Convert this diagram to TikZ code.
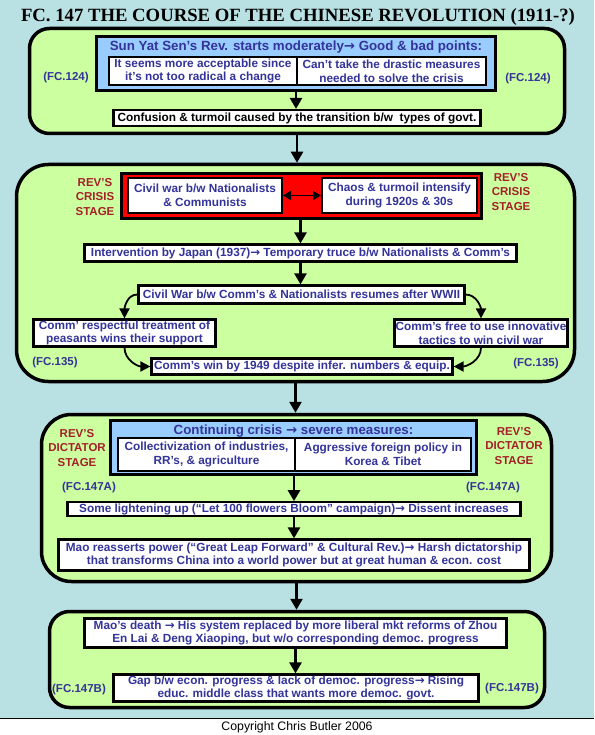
\documentclass[tikz,border=0pt]{standalone}
\usepackage{fontspec}
\setmainfont{Liberation Sans}
\newfontfamily\titlefont{Liberation Serif}
\newfontfamily\arrfont{DejaVu Sans}
\usetikzlibrary{arrows.meta}
\newcommand\rar{{\arrfont\bfseries →}}
\definecolor{bgc}{RGB}{185,224,226}
\definecolor{greenc}{RGB}{204,255,160}
\definecolor{bluec}{RGB}{153,204,255}
\definecolor{bluet}{RGB}{51,51,153}
\definecolor{redt}{RGB}{165,32,40}
\begin{document}
\begin{tikzpicture}[x=1pt,y=-1pt,
  panel/.style={draw, line width=3.5pt, fill=greenc, inner sep=0pt},
  bbox/.style={draw, line width=3pt, fill=bluec, inner sep=0pt},
  rbox/.style={draw, line width=3pt, fill=red, inner sep=0pt},
  wbox/.style={draw, line width=2.2pt, fill=white, inner sep=0pt, align=center, text=bluet,
     font=\fontsize{11.8}{13.6}\selectfont\bfseries},
  thinbox/.style={wbox, line width=1.3pt},
  midbox/.style={wbox, line width=2pt},
  head/.style={inner sep=0pt, text=bluet, font=\fontsize{13.3}{15}\selectfont\bfseries},
  fc/.style={inner sep=0pt, text=bluet, font=\fontsize{11.5}{14}\selectfont\bfseries},
  stage/.style={inner sep=0pt, align=center, text=redt, font=\fontsize{11.5}{14.2}\selectfont\bfseries},
  arr/.style={line width=2.5pt, -{Triangle[length=11pt,width=12pt]}},
  carr/.style={line width=1.8pt, -{Triangle[length=10pt,width=10pt]}},
  darr/.style={line width=1.8pt, {Triangle[length=8pt,width=9pt]}-{Triangle[length=8pt,width=9pt]}}
]
\useasboundingbox (0,0) rectangle (594,735);
\fill[bgc] (0,0) rectangle (594,718);
\fill[white] (0,718) rectangle (594,735);
\draw[line width=1pt] (0,718) -- (594,718);

\node[font=\titlefont\fontsize{18.7}{21}\selectfont\bfseries, inner sep=0pt] (title) at (298,17)
  {FC. 147 THE COURSE OF THE CHINESE REVOLUTION (1911-?)};
\node[font=\fontsize{12.3}{14}\selectfont, inner sep=0pt] (copy) at (297,727) {Copyright Chris Butler 2006};

% ---------- Panel 1
\node[panel, rounded corners=20pt, minimum width=535pt, minimum height=105pt] (p1) at (297,81) {};
\node[bbox, minimum width=399pt, minimum height=54pt] (b1) at (296,63.5) {};
\node[head] (h1) at (296,47) {Sun Yat Sen’s Rev. starts moderately\rar{} Good \& bad points:};
\node[thinbox, minimum width=188pt, minimum height=28pt] (w1l) at (203,71)
  {It seems more acceptable since\\it’s not too radical a change};
\node[thinbox, minimum width=189pt, minimum height=28pt] (w1r) at (391.5,71)
  {Can’t take the drastic measures\\needed to solve the crisis};
\node[wbox, text=black, minimum width=367pt, minimum height=16pt] (conf) at (297,118)
  {Confusion \& turmoil caused by the transition b/w\ \ types of govt.};
\node[fc] (fc1l) at (66,78) {(FC.124)};
\node[fc] (fc1r) at (528,79) {(FC.124)};
\draw[arr] (b1.south) -- (b1.south |- conf.north);

% ---------- Panel 2
\node[panel, rounded corners=32pt, minimum width=558pt, minimum height=217pt] (p2) at (295.5,273) {};
\draw[arr] (p1.south) -- (p1.south |- p2.north);
\node[rbox, minimum width=360pt, minimum height=45pt] (rb) at (301.5,196) {};
\node[midbox, minimum width=154pt, minimum height=35pt] (r2l) at (205,195.5)
  {Civil war b/w Nationalists\\\& Communists};
\node[midbox, minimum width=155pt, minimum height=35pt] (r2r) at (399.5,195.5)
  {Chaos \& turmoil intensify\\during 1920s \& 30s};
\draw[darr] (r2l.east) -- (r2r.west);
\node[stage] (st2l) at (95,197) {REV’S\\CRISIS\\STAGE};
\node[stage] (st2r) at (511,192) {REV’S\\CRISIS\\STAGE};
\node[wbox, minimum width=432pt, minimum height=17pt] (interv) at (300.5,253)
  {Intervention by Japan (1937)\rar{} Temporary truce b/w Nationalists \& Comm’s};
\node[wbox, minimum width=326pt, minimum height=18pt] (cw) at (301.5,294.5)
  {Civil War b/w Comm’s \& Nationalists resumes after WWII};
\node[wbox, minimum width=182pt, minimum height=27pt] (lb) at (124.5,333)
  {Comm’ respectful treatment of\\peasants wins their support};
\node[wbox, minimum width=173pt, minimum height=27pt] (rbx) at (481,333)
  {Comm’s free to use innovative\\tactics to win civil war};
\node[wbox, minimum width=301pt, minimum height=16pt] (win) at (302,366.5)
  {Comm’s win by 1949 despite infer. numbers \& equip.};
\node[fc] (fc2l) at (55,363) {(FC.135)};
\node[fc] (fc2r) at (536,364) {(FC.135)};
\draw[arr] (rb.south -| interv.north) -- (interv.north);
\draw[arr] (interv.south) -- (interv.south |- cw.north);
\draw[carr] (cw.west) to[out=180,in=90] (lb.north);
\draw[carr] (cw.east) to[out=0,in=90] (rbx.north);
\draw[carr] (lb.south) to[out=-90,in=180] (win.west);
\draw[carr] (rbx.south) to[out=-90,in=0] (win.east);

% ---------- Panel 3
\node[panel, rounded corners=30pt, minimum width=510pt, minimum height=167pt] (p3) at (296.5,498) {};
\draw[arr] (p2.south) -- (p2.south |- p3.north);
\node[bbox, minimum width=366pt, minimum height=54pt] (b3) at (293.5,447.5) {};
\node[head] (h3) at (293.5,431) {Continuing crisis \rar{} severe measures:};
\node[thinbox, minimum width=177pt, minimum height=33pt] (w3l) at (206.5,454.5)
  {Collectivization of industries,\\RR’s, \& agriculture};
\node[thinbox, minimum width=176pt, minimum height=33pt] (w3r) at (383,454.5)
  {Aggressive foreign policy in\\Korea \& Tibet};
\node[stage] (st3l) at (77,448) {REV’S\\DICTATOR\\STAGE};
\node[stage] (st3r) at (514,446) {REV’S\\DICTATOR\\STAGE};
\node[fc] (fc3l) at (89,488) {(FC.147A)};
\node[fc] (fc3r) at (493,488) {(FC.147A)};
\node[wbox, minimum width=453pt, minimum height=13.5pt] (some) at (294,509)
  {Some lightening up (“Let 100 flowers Bloom” campaign)\rar{} Dissent increases};
\node[wbox, minimum width=471pt, minimum height=31pt] (mao) at (294,555)
  {Mao reasserts power (“Great Leap Forward” \& Cultural Rev.)\rar{} Harsh dictatorship\\that transforms China into a world power but at great human \& econ. cost};
\draw[arr] (b3.south -| some.north) -- (some.north);
\draw[arr] (some.south) -- (mao.north);

% ---------- Panel 4
\node[panel, rounded corners=20pt, minimum width=495pt, minimum height=96pt] (p4) at (297,659.5) {};
\draw[arr] (p3.south) -- (p3.south |- p4.north);
\node[wbox, minimum width=422pt, minimum height=29pt] (md) at (295.5,633)
  {Mao’s death \rar{} His system replaced by more liberal mkt reforms of Zhou\\En Lai \& Deng Xiaoping, but w/o corresponding democ. progress};
\node[wbox, minimum width=365pt, minimum height=27pt] (gap) at (296,688)
  {Gap b/w econ. progress \& lack of democ. progress\rar{} Rising\\educ. middle class that wants more democ. govt.};
\node[fc] (fc4l) at (79,690) {(FC.147B)};
\node[fc] (fc4r) at (512,689) {(FC.147B)};
\draw[arr] (md.south) -- (md.south |- gap.north);
\end{tikzpicture}
\end{document}
